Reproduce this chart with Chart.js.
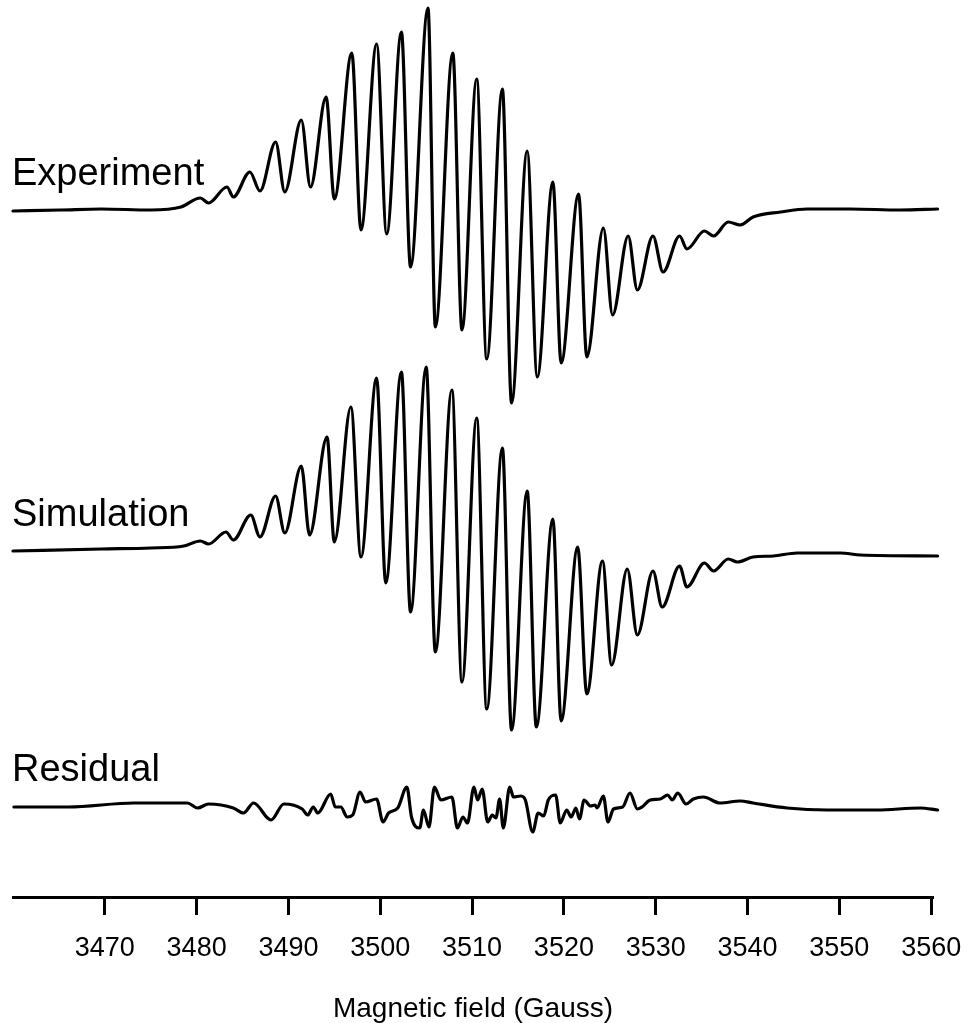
<!DOCTYPE html>
<html>
<head>
<meta charset="utf-8">
<script src="https://cdn.jsdelivr.net/npm/chart.js@4.4.1/dist/chart.umd.min.js"></script>
<style>
  html, body { margin: 0; padding: 0; background: #fff; }
  #wrap { width: 966px; height: 1023px; position: relative; }
</style>
</head>
<body>
<div id="wrap"><canvas id="chart"></canvas></div>
<script>
// --- Data (field in Gauss, signal in arbitrary units) ---
const TICK_VALUES = [3470, 3480, 3490, 3500, 3510, 3520, 3530, 3540, 3550, 3560];

const expField = [3460.0, 3465.2, 3469.6, 3475.0, 3478.3, 3480.4, 3481.3, 3483.3, 3484.0, 3485.8, 3486.9,
  3488.6, 3489.6, 3491.4, 3492.4, 3494.1, 3495.0, 3496.9, 3497.9, 3499.6, 3500.7, 3502.3, 3503.3,
  3505.2, 3506.0, 3507.9, 3508.9, 3510.5, 3511.6, 3513.3, 3514.3, 3516.0, 3517.1, 3518.8, 3519.7,
  3521.6, 3522.5, 3524.3, 3525.3, 3527.0, 3528.0, 3529.7, 3530.8, 3532.6, 3533.4, 3535.3, 3536.3,
  3537.9, 3539.2, 3540.6, 3543.6, 3546.5, 3551.2, 3556.6, 3560.7];
const expSignal = [-1, 0, 1, 0, 3, 12, 7, 23, 13, 38, 19,
  68, 18, 90, 23, 113, 11, 157, -20, 166, -24, 178, -57,
  202, -117, 157, -120, 131, -149, 121, -193, 59, -167, 28, -153,
  16, -147, -18, -105, -26, -80, -26, -62, -26, -39, -21, -26,
  -12, -15, -7, -2, 1, 1, 0, 1];

const simField = [3460.0, 3469.6, 3475.0, 3478.6, 3480.4, 3481.3, 3483.2, 3484.0, 3485.9, 3486.9,
  3488.6, 3489.6, 3491.4, 3492.3, 3494.2, 3495.0, 3496.8, 3497.9, 3499.6, 3500.6, 3502.3, 3503.3,
  3505.0, 3506.0, 3507.8, 3508.9, 3510.5, 3511.6, 3513.3, 3514.3, 3516.0, 3517.0, 3518.8, 3519.7,
  3521.5, 3522.5, 3524.2, 3525.2, 3526.9, 3528.0, 3529.7, 3530.7, 3532.6, 3533.4, 3535.3, 3536.3,
  3537.9, 3538.9, 3540.6, 3542.8, 3545.4, 3550.1, 3552.3, 3560.7];
const simSignal = [0, 2, 3, 5, 10, 7, 19, 11, 36, 14,
  55, 18, 85, 16, 114, 9, 144, -6, 173, -32, 179, -61,
  184, -101, 161, -131, 133, -158, 103, -179, 60, -176, 32, -170,
  4, -143, -10, -114, -18, -84, -20, -56, -15, -36, -12, -20,
  -8, -11, -6, -5, -2, -2, -4, -5];

const resField = [3460.1, 3466.0, 3473.2, 3479.0, 3480.1, 3481.3, 3484.0, 3485.1, 3486.2, 3488.1,
  3489.5, 3491.5, 3492.1, 3492.7, 3493.2, 3494.6, 3495.1, 3495.7, 3496.4, 3497.0, 3497.8, 3498.4,
  3499.6, 3500.3, 3500.9, 3501.9, 3502.9, 3503.4, 3504.3, 3504.7, 3505.3, 3505.9, 3506.6, 3507.8,
  3508.4, 3509.0, 3509.5, 3510.2, 3510.6, 3511.1, 3511.7, 3512.2, 3512.6, 3513.0, 3513.4, 3514.1,
  3514.5, 3515.3, 3515.8, 3516.6, 3517.2, 3517.8, 3518.3, 3519.1, 3519.6, 3520.3, 3520.8, 3521.3,
  3521.7, 3522.2, 3522.9, 3523.4, 3523.6, 3524.3, 3524.8, 3525.4, 3526.4, 3527.2, 3528.0, 3528.5,
  3529.4, 3530.5, 3531.3, 3531.8, 3532.4, 3533.3, 3534.1, 3535.2, 3537.0, 3539.2, 3540.6, 3544.3,
  3548.7, 3554.1, 3558.8, 3560.7];
const resSignal = [-1, -1, 3, 3, -2, 2, -2, -7, 3, -14,
  2, -3, -9, -1, -7, 12, -1, -1, -11, -9, 14, 4,
  7, -16, -7, -2, 19, -11, -22, -4, -21, 19, 6, 9,
  -22, -11, -17, 19, 6, 17, -16, -9, -12, 7, -22, 19,
  9, 10, 6, -26, -7, -10, 6, 11, -17, -4, -11, -2,
  -13, 6, 0, 1, -2, 10, -16, -3, -1, 13, -3, -1,
  6, 7, 11, 6, 13, 2, 7, 9, 3, 5, 3, -2,
  -4, -4, -2, -4];

// vertical stacking offset of each trace
const SERIES = [
  { label: 'Experiment', field: expField, signal: expSignal, offset: 687 },
  { label: 'Simulation', field: simField, signal: simSignal, offset: 346 },
  { label: 'Residual', field: resField, signal: resSignal, offset: 91 }
];

const FONT = "'Liberation Sans', Arial, sans-serif";

// draws the trace names just above each baseline
const traceLabels = {
  id: 'traceLabels',
  afterDatasetsDraw(chart) {
    const { ctx, chartArea, scales } = chart;
    ctx.save();
    ctx.fillStyle = '#000';
    ctx.font = `38px ${FONT}`;
    ctx.textBaseline = 'alphabetic';
    chart.data.datasets.forEach(ds => {
      const y = scales.y.getPixelForValue(ds.baseline) - 25;
      ctx.fillText(ds.label, chartArea.left - 1, y);
    });
    ctx.restore();
  }
};

const datasets = SERIES.map(s => ({
  label: s.label,
  baseline: s.offset,
  data: s.field.map((x, i) => ({ x: x, y: s.signal[i] + s.offset })),
  borderColor: '#000',
  borderWidth: 3.2,
  pointRadius: 0,
  cubicInterpolationMode: 'monotone',
  borderJoinStyle: 'round',
  borderCapStyle: 'round',
  clip: false
}));

const ctx = document.getElementById('chart').getContext('2d');
new Chart(ctx, {
  type: 'line',
  data: { datasets: datasets },
  plugins: [traceLabels],
  options: {
    responsive: true,
    maintainAspectRatio: false,
    animation: false,
    layout: { padding: { left: 13, right: 33, top: 0, bottom: 0 } },
    plugins: { legend: { display: false }, tooltip: { enabled: false } },
    scales: {
      x: {
        type: 'linear',
        min: 3460,
        max: 3560.2,
        afterBuildTicks: s => { s.ticks = TICK_VALUES.map(v => ({ value: v })); },
        afterFit: s => { s.height = 126; s.paddingLeft = 0; s.paddingRight = 0; },
        border: { display: true, color: '#000', width: 3 },
        grid: { drawOnChartArea: false, drawTicks: true, tickLength: 18, tickWidth: 3, tickColor: '#000' },
        ticks: {
          color: '#000', font: { family: FONT, size: 27 }, padding: 17, maxRotation: 0, autoSkip: false,
          callback: v => String(v)
        },
        title: {
          display: true, text: 'Magnetic field (Gauss)', color: '#000',
          font: { family: FONT, size: 28, lineHeight: 1 }, padding: { top: 0, bottom: 0 }
        }
      },
      y: { type: 'linear', display: false, min: 0, max: 897 }
    }
  }
});
</script>
</body>
</html>
